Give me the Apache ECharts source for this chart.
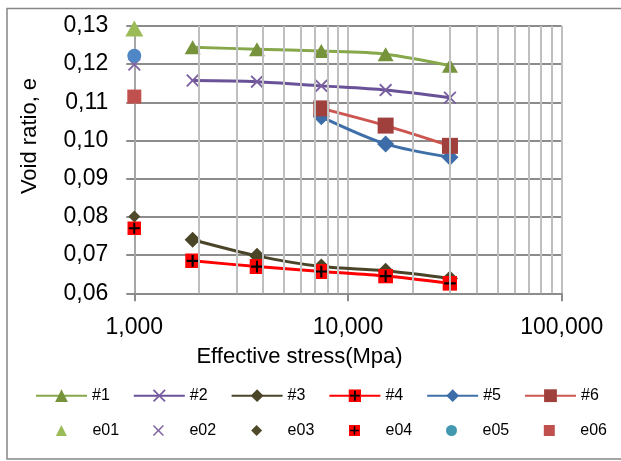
<!DOCTYPE html>
<html>
<head>
<meta charset="utf-8">
<script src="https://cdn.jsdelivr.net/npm/echarts@6/dist/echarts.min.js"></script>
<style>html,body{margin:0;padding:0;background:#fff;}#c{width:621px;height:461px;}</style>
</head>
<body>
<div id="c"></div>
<script>
// ---- data ----
var stress = [1875, 3750, 7500, 15000, 30000];
var s1 = [0.1244, 0.1239, 0.1234, 0.1226, 0.1196];
var s2 = [0.1157, 0.1154, 0.1143, 0.1132, 0.1112];
var s3 = [0.0740, 0.0698, 0.0670, 0.0659, 0.0639];
var s4 = [0.0685, 0.0670, 0.0657, 0.0645, 0.0626];
var stress56 = [7500, 15000, 30000];
var s5 = [0.1062, 0.0991, 0.0956];
var s6 = [0.1084, 0.1039, 0.0986];
var e0Stress = 1000;
var e0 = [0.1293, 0.1199, 0.0801, 0.0770, 0.1222, 0.1115];
var lineNames = ['#1', '#2', '#3', '#4', '#5', '#6'];
var pointNames = ['e01', 'e02', 'e03', 'e04', 'e05', 'e06'];
var minorX = [2000, 3000, 4000, 5000, 6000, 7000, 8000, 9000,
              20000, 30000, 40000, 50000, 60000, 70000, 80000, 90000];
var yTicks = {min: 0.06, max: 0.13, step: 0.01};
var xTicks = {min: 1000, max: 100000};

function pairs(xs, ys) { return ys.map(function (v, i) { return [xs[i], v]; }); }

var FONT = '"Liberation Sans", Arial, sans-serif';
var crossPath = 'path://M0,1L1,0L5,4L9,0L10,1L6,5L10,9L9,10L5,6L1,10L0,9L4,5Z';
var plusSvg = '<svg xmlns="http://www.w3.org/2000/svg" width="28" height="28" viewBox="0 0 14 14">' +
  '<rect width="14" height="14" fill="#FF0000"/>' +
  '<path d="M7 1.5V12.5M1.5 7H12.5" stroke="#000" stroke-width="2"/></svg>';
var plusSym = 'image://data:image/svg+xml;charset=utf-8,' + encodeURIComponent(plusSvg);

var chart = echarts.init(document.getElementById('c'), null, {renderer: 'canvas'});

function lineSeries(name, xs, ys, lineColor, markColor, symbol, size) {
  return {
    name: name, type: 'line', data: pairs(xs, ys), smooth: 0.3,
    symbol: symbol, symbolSize: size, showAllSymbol: true,
    lineStyle: {color: lineColor, width: 3},
    itemStyle: {color: markColor},
    z: 3, animation: false
  };
}
function pointSeries(idx, color, symbol, size) {
  return {
    name: pointNames[idx], type: 'scatter', data: [[e0Stress, e0[idx]]],
    symbol: symbol, symbolSize: size, clip: false, symbolKeepAspect: true,
    itemStyle: {color: color, opacity: 1}, z: 4, animation: false
  };
}

// second legend row: one small legend per item, placed on the reference's columns
var row2Centers = [61.4, 158.4, 256.6, 354.5, 451.5, 549.3];
var row2Legends = pointNames.map(function (n, i) {
  var item = i === 4 ? {name: n, itemStyle: {color: '#4198AF'}} : {name: n};
  return {
    data: [item], left: row2Centers[i] - 5.5, top: 422.5, padding: 0,
    itemWidth: 11, itemHeight: 11, itemGap: 0,
    textStyle: {fontSize: 16, fontFamily: FONT, color: '#000', padding: [0, 0, 0, 20.5]}
  };
});

var option = {
  backgroundColor: '#fff',
  animation: false,
  grid: {left: 134.3, right: 59.3, top: 25.9, bottom: 167.7, containLabel: false},
  xAxis: {
    type: 'log', logBase: 10, min: xTicks.min, max: xTicks.max,
    axisLine: {show: true, onZero: false, lineStyle: {color: '#8C8C8C', width: 2}},
    axisTick: {show: true, length: 8, lineStyle: {color: '#8C8C8C', width: 2}},
    axisLabel: {
      margin: 23, fontSize: 23, fontFamily: FONT, color: '#000',
      formatter: function (v) { return Math.round(v).toLocaleString('en-US'); }
    },
    splitLine: {show: true, lineStyle: {color: '#BFBFBF', width: 2}},
    minorTick: {show: false}
  },
  yAxis: {
    type: 'value', min: yTicks.min, max: yTicks.max, interval: yTicks.step,
    axisLine: {show: true, lineStyle: {color: '#A6A6A6', width: 2}},
    axisTick: {show: true, length: 8, lineStyle: {color: '#8C8C8C', width: 2}},
    axisLabel: {
      margin: 26, fontSize: 23, fontFamily: FONT, color: '#000',
      formatter: function (v) { return v.toFixed(2).replace('.', ','); }
    },
    splitLine: {show: true, lineStyle: {color: '#8C8C8C', width: 2}}
  },
  legend: [
    {
      data: lineNames, left: 35, top: 387.7, padding: 0,
      itemWidth: 51, itemHeight: 16, itemGap: 23,
      textStyle: {fontSize: 16, fontFamily: FONT, color: '#000'}
    }
  ].concat(row2Legends),
  graphic: [
    {type: 'rect', shape: {x: 7, y: 8.5, width: 630, height: 450.5},
     style: {fill: null, stroke: '#868686', lineWidth: 1.5}, silent: true, z: -1},
    {type: 'text', x: 299.5, y: 357,
     style: {text: 'Effective stress(Mpa)', font: '22px ' + FONT, fill: '#000',
             textAlign: 'center', textVerticalAlign: 'middle'}},
    {type: 'text', x: 30, y: 136, rotation: Math.PI / 2,
     style: {text: 'Void ratio, e', font: '22px ' + FONT, fill: '#000',
             textAlign: 'center', textVerticalAlign: 'middle'}}
  ],
  series: [
    {
      name: 'minor-grid', type: 'line', data: [], z: 1, silent: true,
      markLine: {
        silent: true, symbol: ['none', 'none'], animation: false,
        label: {show: false},
        lineStyle: {color: '#BFBFBF', width: 2, type: 'solid'},
        emphasis: {disabled: true},
        data: minorX.map(function (x) { return {xAxis: x}; })
      }
    },
    lineSeries('#1', stress, s1, '#86A84A', '#76933C', 'triangle', [16, 14]),
    lineSeries('#2', stress, s2, '#6A5299', '#7A5FA0', crossPath, 13),
    lineSeries('#3', stress, s3, '#4A4528', '#4A4527', 'diamond', [16, 16]),
    lineSeries('#4', stress, s4, '#FF0000', '#FF0000', plusSym, 15),
    lineSeries('#5', stress56, s5, '#3E6FA8', '#3C6DA8', 'diamond', [17, 17]),
    lineSeries('#6', stress56, s6, '#CC5550', '#A0403D', 'rect', 16),
    pointSeries(0, '#9BBB59', 'triangle', [18, 16]),
    pointSeries(1, '#8064A2', crossPath, 13),
    pointSeries(2, '#4F4A2A', 'diamond', [12, 12]),
    pointSeries(3, '#FF0000', plusSym, 14),
    pointSeries(4, '#4F86C6', 'circle', 14),
    pointSeries(5, '#C0504D', 'rect', 14)
  ]
};
chart.setOption(option);
</script>
</body>
</html>
